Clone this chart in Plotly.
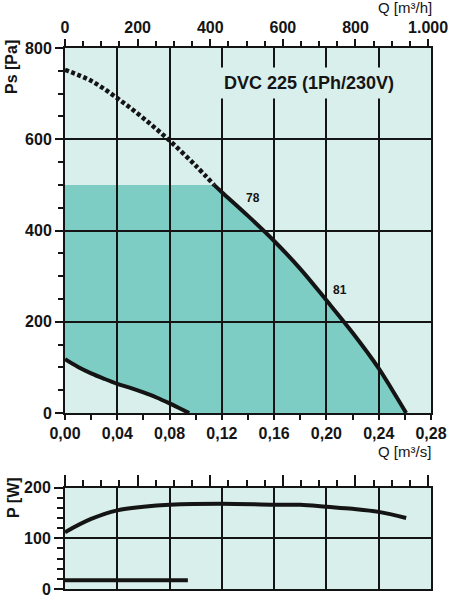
import plotly.graph_objects as go

# ---------------- data ----------------
# fan curve Ps [Pa] vs Q [m3/s]; dotted (stall) part up to q_limit, solid afterwards
q_fan = [0.000, 0.020, 0.040, 0.060, 0.080, 0.100, 0.114, 0.120, 0.140, 0.160,
         0.180, 0.200, 0.220, 0.240, 0.250, 0.261]
ps_fan = [752, 728, 690, 646, 597, 542, 500, 484, 432, 377,
          316, 247, 176, 98, 52, 0]
q_limit = 0.114          # end of dotted part
ps_limit = 500           # upper limit of the shaded working area

# lower limit curve (minimum speed)
q_low = [0.000, 0.010, 0.020, 0.030, 0.040, 0.050, 0.060, 0.070, 0.080, 0.090, 0.095]
ps_low = [118, 101, 87, 75, 64, 55, 45, 34, 21, 7, 0]

# efficiency labels on the curve
eff_labels = ["78", "81"]
eff_q = [0.144, 0.210]
eff_ps = [471, 270]

# power curve P [W]
q_pow = [0.000, 0.020, 0.040, 0.060, 0.080, 0.120, 0.160, 0.180, 0.200, 0.220, 0.240, 0.261]
p_pow = [112, 138, 155, 162, 166, 168, 166, 166, 162, 158, 152, 140]
# power at minimum speed
q_pow_low = [0.000, 0.094]
p_pow_low = [17, 17]

title_text = "DVC 225 (1Ph/230V)"
q_max = 0.28                 # m3/s
q_max_h = q_max * 3600       # m3/h

# ---------------- style ----------------
BG = "#d9efec"
SHADE = "#7ecdc4"
INK = "#141414"
FONT = "Liberation Sans, Arial, sans-serif"

fig = go.Figure()

# shaded working area as path built from data
top_q = [0.0, q_limit]
top_ps = [ps_limit, ps_limit]
solid_q = [q for q in q_fan if q >= q_limit]
solid_ps = [p for q, p in zip(q_fan, ps_fan) if q >= q_limit]
poly_q = top_q + solid_q + q_low[::-1]
poly_ps = top_ps + solid_ps + ps_low[::-1]
path = "M " + " L ".join(f"{x},{y}" for x, y in zip(poly_q, poly_ps)) + " Z"
fig.add_shape(type="path", path=path, xref="x", yref="y", layer="below",
              fillcolor=SHADE, line=dict(width=0))

dot_q = [q for q in q_fan if q <= q_limit]
dot_ps = [p for q, p in zip(q_fan, ps_fan) if q <= q_limit]
fig.add_trace(go.Scatter(x=dot_q, y=dot_ps, mode="lines", xaxis="x", yaxis="y",
                         line=dict(color=INK, width=4.5, dash="4px,2.5px", shape="spline"),
                         hoverinfo="skip", showlegend=False))
fig.add_trace(go.Scatter(x=solid_q, y=solid_ps, mode="lines", xaxis="x", yaxis="y",
                         line=dict(color=INK, width=4, shape="spline"),
                         hoverinfo="skip", showlegend=False))
fig.add_trace(go.Scatter(x=q_low, y=ps_low, mode="lines", xaxis="x", yaxis="y",
                         line=dict(color=INK, width=4, shape="spline"),
                         hoverinfo="skip", showlegend=False))
fig.add_trace(go.Scatter(x=q_pow, y=p_pow, mode="lines", xaxis="x3", yaxis="y2",
                         line=dict(color=INK, width=4, shape="spline"),
                         hoverinfo="skip", showlegend=False))
fig.add_trace(go.Scatter(x=q_pow_low, y=p_pow_low, mode="lines", xaxis="x3", yaxis="y2",
                         line=dict(color=INK, width=4),
                         hoverinfo="skip", showlegend=False))
# invisible companions so the m3/h axes get drawn
fig.add_trace(go.Scatter(x=[q * 3600 for q in q_fan], y=ps_fan, mode="lines", xaxis="x2", yaxis="y",
                         line=dict(width=0), opacity=0, hoverinfo="skip", showlegend=False))
fig.add_trace(go.Scatter(x=[q * 3600 for q in q_pow], y=p_pow, mode="lines", xaxis="x4", yaxis="y2",
                         line=dict(width=0), opacity=0, hoverinfo="skip", showlegend=False))

tickfont = dict(family=FONT, size=16, color=INK, weight="bold")
axline = dict(showline=True, linecolor=INK, linewidth=2, mirror=True)

W, H = 450, 599
ml, mr, mt, mb = 65, 19, 48, 10
ph = H - mt - mb
main_bottom = (H - mb - 413) / ph
pow_top = (H - mb - 487.5) / ph

fig.update_layout(
    width=W, height=H,
    margin=dict(l=ml, r=mr, t=mt, b=mb, autoexpand=False),
    paper_bgcolor="white", plot_bgcolor=BG,
    separators=",.",
    showlegend=False,
    xaxis=dict(domain=[0, 1], anchor="y", range=[0, q_max], tick0=0, dtick=0.04,
               tickformat=".2f", ticks="outside", ticklen=5, tickwidth=1.5, tickcolor=INK,
               minor=dict(dtick=0.02, ticks="outside", ticklen=5, tickwidth=1.5, tickcolor=INK, showgrid=False),
               showgrid=True, gridcolor=INK, gridwidth=2, zeroline=False,
               tickfont=tickfont, **axline),
    xaxis2=dict(overlaying="x", anchor="y", side="top", range=[0, q_max_h], tick0=0, dtick=200,
                tickformat=",d", ticks="outside", ticklen=7, tickwidth=1.5, tickcolor=INK,
                minor=dict(dtick=50, ticks="outside", ticklen=5, tickwidth=1.5, tickcolor=INK, showgrid=False),
                showgrid=False, zeroline=False, tickfont=tickfont, showline=True, linecolor=INK, linewidth=2),
    yaxis=dict(domain=[main_bottom, 1], anchor="x", range=[0, 800], tick0=0, dtick=200,
               ticks="outside", ticklen=8, tickwidth=1.5, tickcolor=INK,
               minor=dict(dtick=50, ticks="outside", ticklen=5, tickwidth=1.5, tickcolor=INK, showgrid=False),
               showgrid=True, gridcolor=INK, gridwidth=2, zeroline=False,
               tickfont=tickfont, **axline),
    xaxis3=dict(domain=[0, 1], anchor="y2", range=[0, q_max], tick0=0, dtick=0.04,
                ticks="", showticklabels=False,
                showgrid=True, gridcolor=INK, gridwidth=2, zeroline=False, **axline),
    xaxis4=dict(overlaying="x3", anchor="y2", side="top", range=[0, q_max_h], tick0=0, dtick=200,
                ticks="outside", ticklen=11, tickwidth=1.5, tickcolor=INK, showticklabels=False,
                minor=dict(dtick=50, ticks="outside", ticklen=6, tickwidth=1.5, tickcolor=INK, showgrid=False),
                showgrid=False, zeroline=False, showline=True, linecolor=INK, linewidth=2),
    yaxis2=dict(domain=[0, pow_top], anchor="x3", range=[0, 200], tick0=0, dtick=100,
                ticks="outside", ticklen=9, tickwidth=1.5, tickcolor=INK,
                minor=dict(dtick=20, ticks="outside", ticklen=6, tickwidth=1.5, tickcolor=INK, showgrid=False),
                showgrid=True, gridcolor=INK, gridwidth=2, zeroline=False,
                tickfont=tickfont, **axline),
)

def px_x(px):
    return (px - ml) / (W - ml - mr)

def px_y(py):
    return (H - mb - py) / ph

ann = []
ann.append(dict(text=title_text, x=0.1867, y=723, xref="x", yref="y", showarrow=False,
                xanchor="center", yanchor="middle",
                font=dict(family=FONT, size=18, color=INK, weight="bold"),
                bgcolor=BG, borderpad=5))
for t, qx, py in zip(eff_labels, eff_q, eff_ps):
    ann.append(dict(text=t, x=qx, y=py, xref="x", yref="y", showarrow=False,
                    xanchor="center", yanchor="middle",
                    font=dict(family=FONT, size=12, color=INK, weight="bold")))
ann.append(dict(text="Ps [Pa]", x=px_x(11), y=px_y(67), xref="paper", yref="paper",
                xanchor="center", yanchor="middle",
                showarrow=False, textangle=-90,
                font=dict(family=FONT, size=16, color=INK, weight="bold")))
ann.append(dict(text="P [W]", x=px_x(13), y=px_y(498), xref="paper", yref="paper",
                xanchor="center", yanchor="middle",
                showarrow=False, textangle=-90,
                font=dict(family=FONT, size=16, color=INK, weight="bold")))
ann.append(dict(text="Q [m³/h]", x=px_x(405), y=px_y(8), xref="paper", yref="paper",
                xanchor="center", yanchor="middle",
                showarrow=False, font=dict(family=FONT, size=15, color=INK)))
ann.append(dict(text="Q [m³/s]", x=px_x(404), y=px_y(451), xref="paper", yref="paper",
                xanchor="center", yanchor="middle",
                showarrow=False, font=dict(family=FONT, size=15, color=INK)))
fig.update_layout(annotations=ann)

fig.write_html("out.html", config={"displayModeBar": False},
               post_script="document.body.style.margin='0';document.body.style.overflow='hidden';")
